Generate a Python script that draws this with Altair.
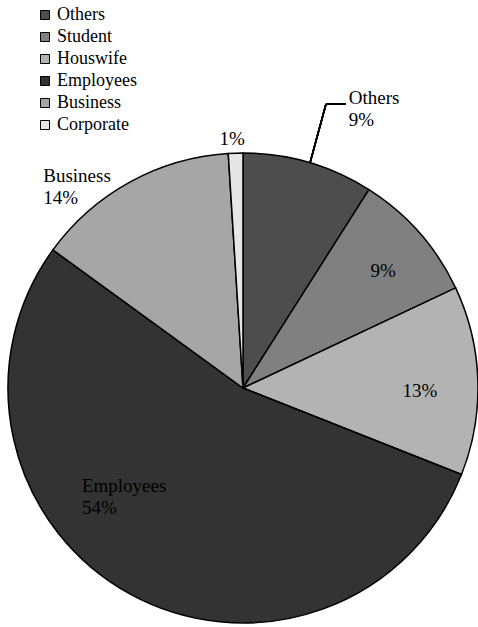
import altair as alt
import pandas as pd
import math

categories = ["Others", "Student", "Houswife", "Employees", "Business", "Corporate"]
values = [9, 9, 13, 54, 14, 1]
colors = ["#4d4d4d", "#808080", "#b3b3b3", "#333333", "#a6a6a6", "#e6e6e6"]

df = pd.DataFrame({"cat": categories, "value": values, "ord": list(range(len(categories)))})

CX, CY, R = 243, 388, 235
FONT = "'Liberation Serif', 'Times New Roman', serif"

base = alt.Chart(df)

pie = base.mark_arc(outerRadius=R, stroke="black", strokeWidth=1.5).encode(
    x=alt.value(CX),
    y=alt.value(CY),
    theta=alt.Theta("value:Q", stack=True, scale=alt.Scale(domain=[0, 100], range=[0, 2 * math.pi])),
    order=alt.Order("ord:Q"),
    color=alt.Color(
        "cat:N",
        scale=alt.Scale(domain=categories, range=colors),
        sort=categories,
        legend=alt.Legend(
            title=None,
            orient="none",
            legendX=36,
            legendY=6,
            symbolType="square",
            symbolSize=81,
            symbolStrokeColor="black",
            symbolStrokeWidth=1,
            labelFont=FONT,
            labelFontSize=18,
            labelColor="black",
            labelOffset=3,
            rowPadding=4,
            padding=0,
        ),
    ),
)

mid = base.transform_window(
    cum="sum(value)", sort=[alt.SortField("ord")], frame=[None, 0]
).transform_calculate(mid="datum.cum - datum.value / 2")


def label_layer(cat, with_name, radius, dx, dy, align):
    expr = "datum.cat + '\\n' + datum.value + '%'" if with_name else "datum.value + '%'"
    return mid.transform_filter(alt.datum.cat == cat).transform_calculate(
        label=expr
    ).mark_text(
        radius=radius, dx=dx, dy=dy, align=align, baseline="middle",
        font=FONT, fontSize=19, color="black", lineBreak="\n", lineHeight=22,
    ).encode(
        x=alt.value(CX),
        y=alt.value(CY),
        theta=alt.Theta("mid:Q", stack=False, scale=alt.Scale(domain=[0, 100], range=[0, 2 * math.pi])),
        text="label:N",
    )


labels = [
    label_layer("Others", True, 300, 22, -2, "left"),
    label_layer("Student", False, 183, 3, 4, "center"),
    label_layer("Houswife", False, 177, 0, 9, "center"),
    label_layer("Employees", True, 160, -84, -42, "left"),
    label_layer("Business", True, 261, -74, 17, "left"),
    label_layer("Corporate", False, 251, -3, 2, "center"),
]

leader1 = base.mark_rule(color="black", strokeWidth=1.5).encode(
    x=alt.value(310), y=alt.value(163), x2=alt.value(326), y2=alt.value(104)
)
leader2 = base.mark_rule(color="black", strokeWidth=1.5).encode(
    x=alt.value(326), y=alt.value(104), x2=alt.value(346), y2=alt.value(104)
)

chart = alt.layer(pie, leader1, leader2, *labels).properties(
    width=478, height=627, padding=0, autosize=alt.AutoSizeParams(type="none")
).configure_view(stroke=None)

chart.save("out.html", embed_options={"renderer": "svg", "actions": False})
